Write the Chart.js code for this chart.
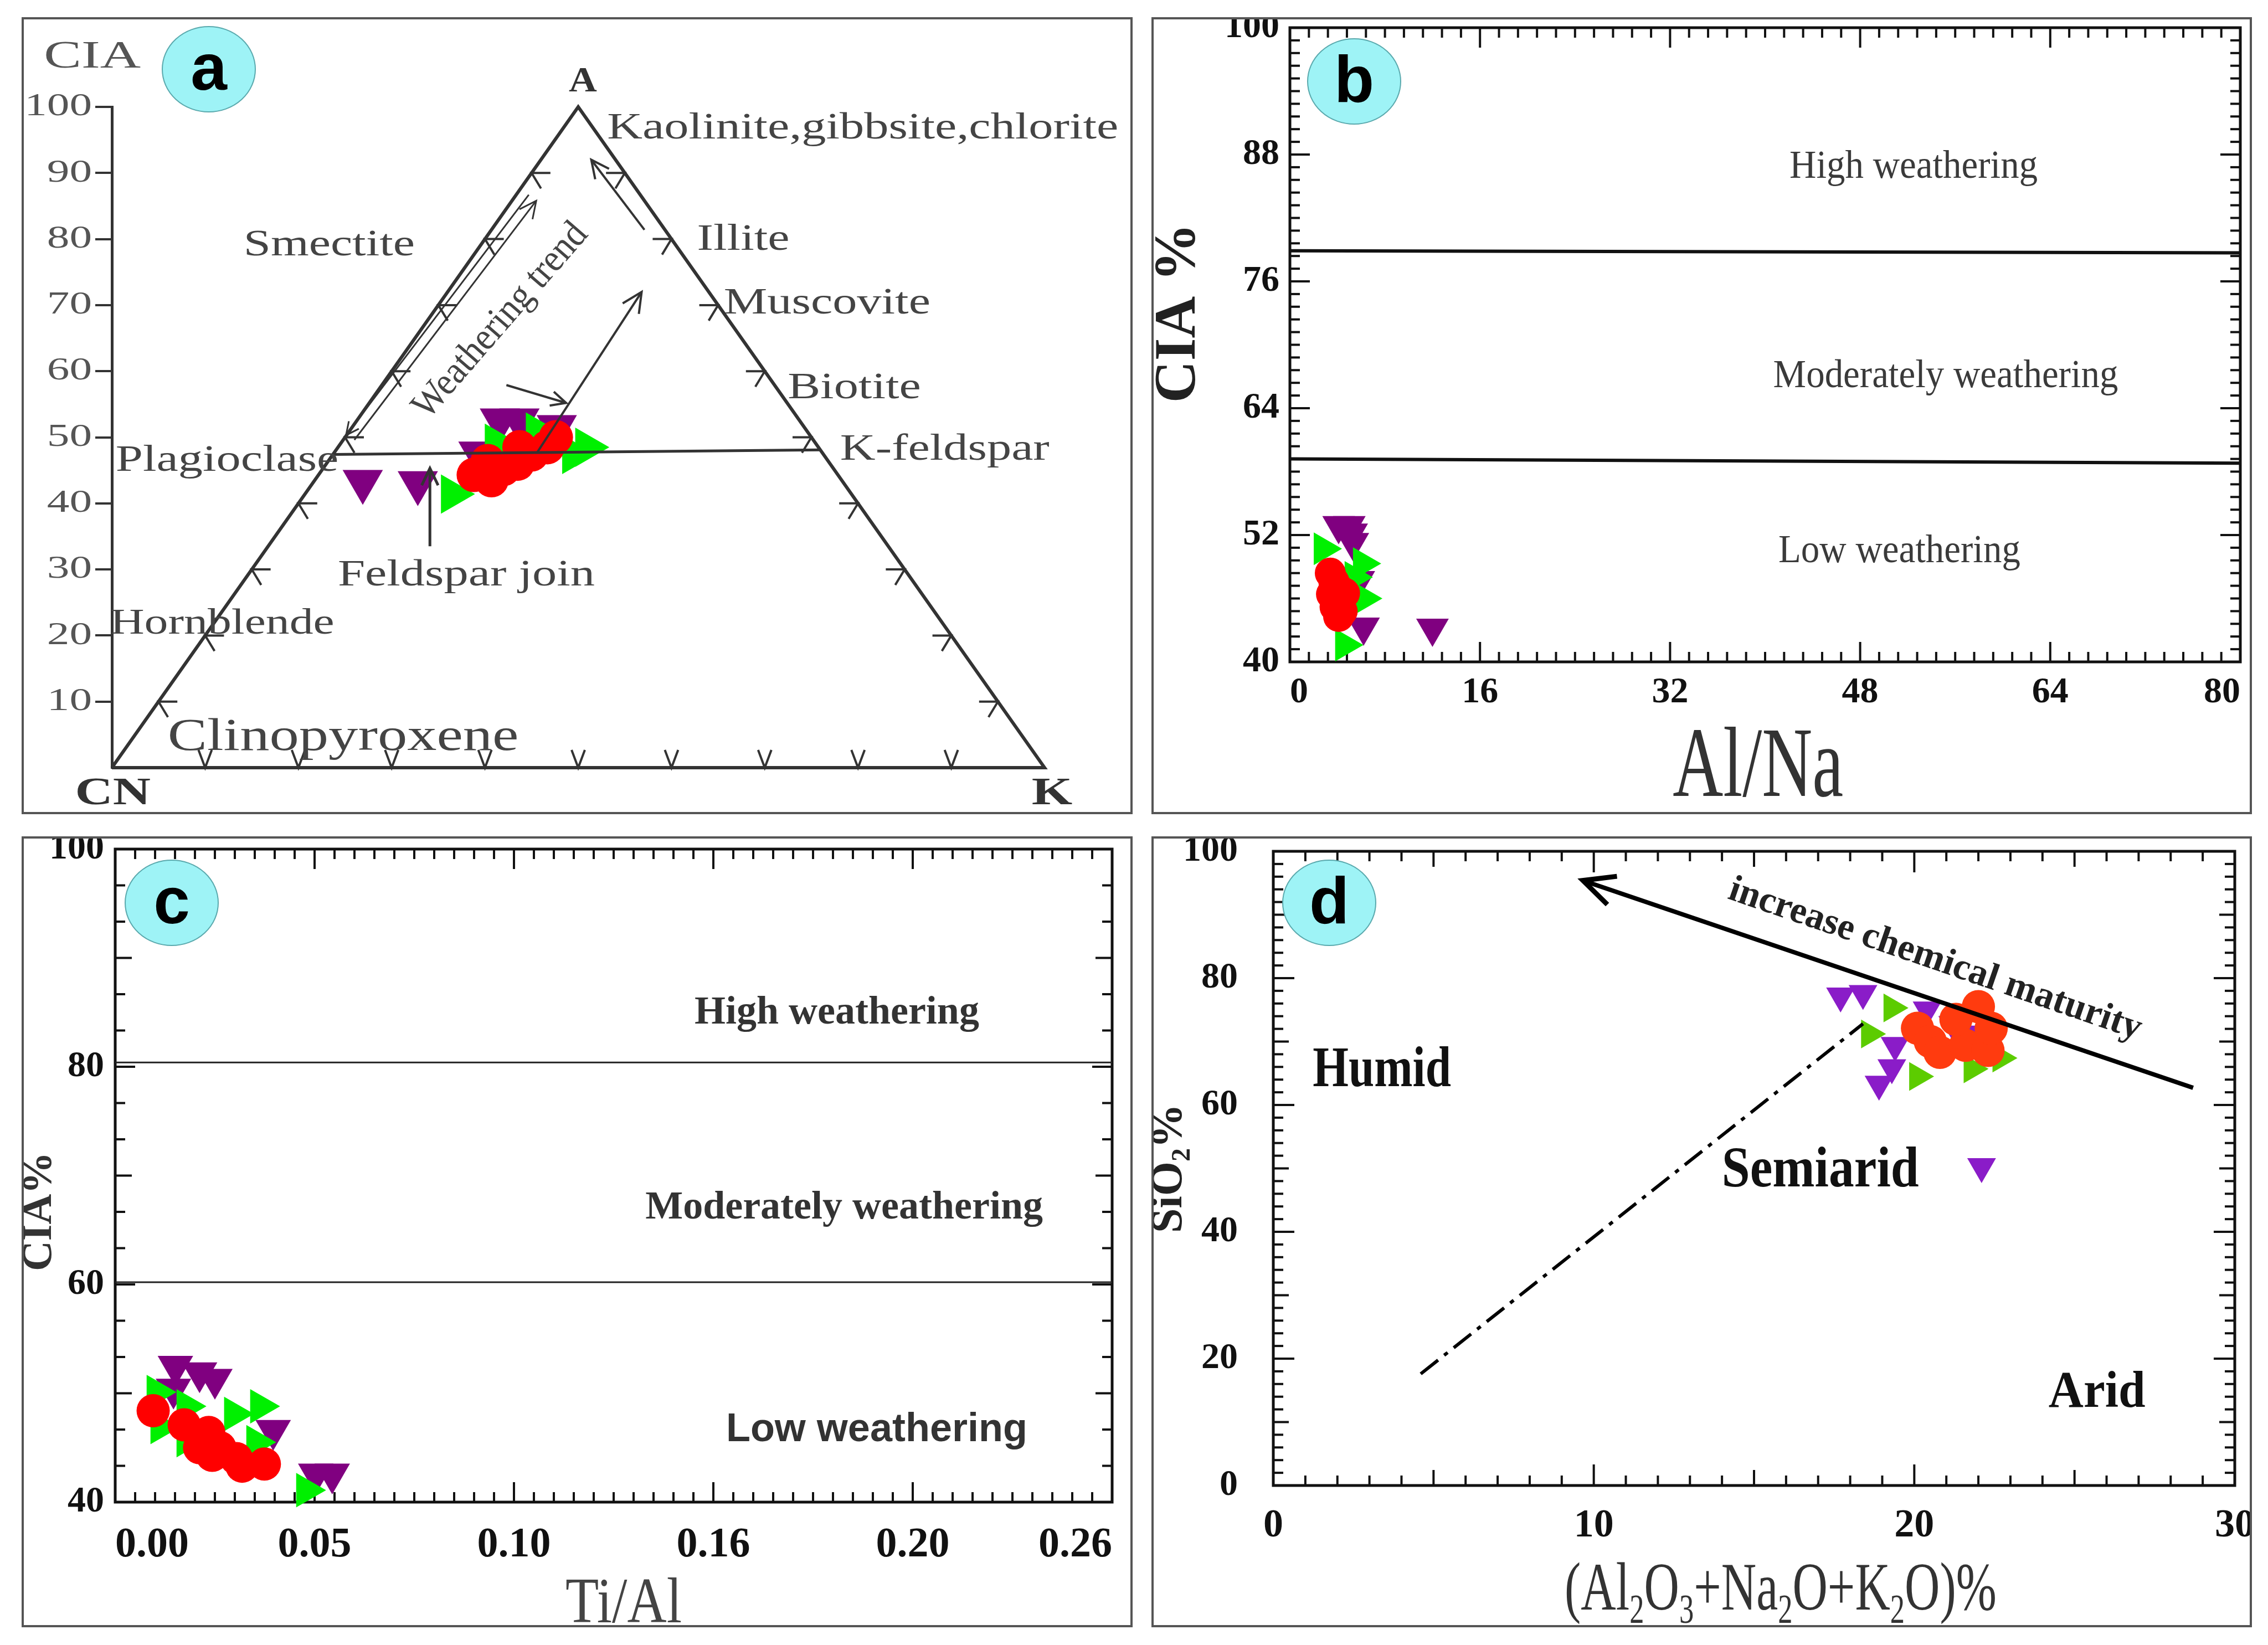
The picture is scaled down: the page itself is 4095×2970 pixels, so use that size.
<!DOCTYPE html>
<html>
<head>
<meta charset="utf-8">
<script src="https://cdn.jsdelivr.net/npm/chart.js@4.4.1/dist/chart.umd.min.js"></script>
<style>
    html, body { margin: 0; padding: 0; background: #fff; }
    body { width: 4095px; height: 2970px; position: relative; overflow: hidden; }
    canvas { position: absolute; }
</style>
</head>
<body>
<canvas id="chartA" width="2006" height="1439" style="left:39px;top:31px"></canvas>
<canvas id="chartB" width="1987" height="1439" style="left:2079px;top:31px"></canvas>
<canvas id="chartC" width="2006" height="1428" style="left:39px;top:1510px"></canvas>
<canvas id="chartD" width="1987" height="1428" style="left:2079px;top:1510px"></canvas>
<script>
// ---- panel a: A-CN-K ternary (x along CN-K base, y = CIA) ----
const aYTicks = [10, 20, 30, 40, 50, 60, 70, 80, 90, 100];
const aRed    = [[38.8, 44.3], [40.7, 43.5], [42.0, 45.2], [43.5, 46.0], [45.0, 47.4], [46.7, 48.5], [47.6, 50.0], [40.3, 46.4], [43.7, 48.5]];
const aGreen  = [[36.5, 41.4], [50.9, 48.5], [49.5, 47.4], [45.6, 50.8], [41.2, 49.1]];
const aPurple = [[26.9, 43.3], [32.8, 43.1], [41.6, 52.6], [43.7, 52.6], [47.7, 51.6], [39.3, 47.6]];
const aTriangle    = [[0, 0], [50, 100], [100, 0], [0, 0]];
const aJoin        = [[23.7, 47.4], [76.0, 48.1]];
const aTrend       = [[45.6, 47.7], [56.8, 72.0]];
const aToA         = [[57.1, 81.4], [51.4, 92.0]];
const aPointer     = [[42.3, 57.9], [48.7, 55.2]];
const aJoinPointer = [[34.1, 33.5], [34.1, 45.3]];
const aSideOuter   = [[25.1, 50.3], [44.7, 86.7]];
const aSideInner   = [[26.0, 49.6], [45.5, 85.8]];

// ---- panel b: CIA vs Al/Na ----
const bXTicks = [0, 16, 32, 48, 64, 80];
const bYTicks = [40, 52, 64, 76, 88, 100];
const bUpper  = [[0, 78.9], [80, 78.7]];
const bLower  = [[0, 59.2], [80, 58.8]];
const bRed    = [[3.4, 48.4], [3.7, 47.6], [4.0, 47.0], [3.5, 46.4], [4.2, 45.8], [3.8, 45.2], [4.4, 44.8], [4.1, 44.3], [4.6, 46.5]];
const bGreen  = [[2.8, 50.7], [6.1, 49.3], [6.2, 46.0], [4.6, 41.6], [5.4, 48.0]];
const bPurple = [[4.1, 52.9], [5.0, 52.9], [5.2, 52.2], [5.3, 51.3], [5.8, 47.7], [6.2, 43.3], [12.0, 43.2]];

// ---- panel c: CIA vs Ti/Al ----
const cXTicks  = [0, 0.052, 0.104, 0.156, 0.208, 0.26];
const cXLabels = ['0.00', '0.05', '0.10', '0.16', '0.20', '0.26'];
const cYTicks  = [40, 60, 80, 100];
const cUpper   = [[0, 80.4], [0.26, 80.4]];
const cLower   = [[0, 60.2], [0.26, 60.2]];
const cRed     = [[0.0099, 48.4], [0.0180, 47.1], [0.0244, 46.4], [0.0273, 45.0], [0.0253, 44.3], [0.0316, 44.0], [0.0331, 43.3], [0.0389, 43.5], [0.0220, 45.0]];
const cGreen   = [[0.0378, 48.8], [0.0310, 48.1], [0.0108, 50.1], [0.0186, 48.8], [0.0368, 45.5], [0.0186, 45.7], [0.0118, 46.9], [0.0498, 41.1]];
const cPurple  = [[0.0157, 52.5], [0.0220, 51.9], [0.0260, 51.3], [0.0152, 50.4], [0.0412, 46.6], [0.0523, 42.6], [0.0566, 42.6]];

// ---- panel d: SiO2 vs (Al2O3+Na2O+K2O) ----
const dXTicks    = [0, 10, 20, 30];
const dYTicks    = [0, 20, 40, 60, 80, 100];
const dMaturity  = [[28.7, 62.7], [9.66, 95.4]];
const dBoundary  = [[4.6, 17.6], [18.4, 72.8]];
const dRed    = [[22.0, 75.5], [20.1, 72.1], [20.5, 70.0], [20.8, 68.3], [21.6, 69.4], [22.3, 68.6], [22.4, 72.1], [21.3, 73.5]];
const dGreen  = [[19.3, 75.3], [18.6, 71.2], [20.1, 64.5], [21.8, 65.7], [22.7, 67.4]];
const dPurple = [[17.7, 77.2], [18.4, 77.6], [19.4, 69.4], [19.3, 65.9], [18.9, 63.3], [20.4, 75.0], [21.2, 72.7], [22.0, 71.2], [22.1, 50.3]];

const SERIF = '"Liberation Serif", "Times New Roman", serif';
const SANS  = '"Liberation Sans", Arial, sans-serif';

const pts = arr => arr.map(([x, y]) => ({ x, y }));

function marker(data, color, style, rot, r) {
    return { data: pts(data), pointStyle: style, rotation: rot, pointRadius: r,
             backgroundColor: color, borderWidth: 0, clip: false };
}
function guide(data, color, width, extra) {
    return Object.assign({ data: pts(data), showLine: true, pointRadius: 0, borderColor: color,
        borderWidth: width, fill: false, clip: false, borderJoinStyle: 'miter' }, extra || {});
}
function T(t, x, y, size, extra) {
    return Object.assign({ t, x, y, size }, extra || {});
}

function drawText(chart, t) {
    const { ctx, scales: { x, y } } = chart;
    const runs = Array.isArray(t.t) ? t.t : [[t.t, 0]];
    const fontFor = sub => `${t.bold ? 'bold ' : ''}${sub ? Math.round(t.size * 0.6) : t.size}px ${t.family || SERIF}`;
    ctx.save();
    ctx.translate(x.getPixelForValue(t.x), y.getPixelForValue(t.y));
    if (t.rot) ctx.rotate(t.rot * Math.PI / 180);
    ctx.scale(t.sx || 1, 1);
    ctx.fillStyle = t.color || '#333';
    ctx.textBaseline = 'middle';
    ctx.textAlign = 'left';
    let total = 0;
    const widths = runs.map(([s, sub]) => { ctx.font = fontFor(sub); const w = ctx.measureText(s).width; total += w; return w; });
    let cx = t.align === 'left' ? 0 : -total / 2;
    runs.forEach(([s, sub], i) => {
        ctx.font = fontFor(sub);
        ctx.fillText(s, cx, sub ? t.size * 0.3 : 0);
        cx += widths[i];
    });
    ctx.restore();
}

function drawFrame(chart, f) {
    const { ctx, chartArea: a, scales: { x, y } } = chart;
    const seg = (x1, y1, x2, y2) => { ctx.beginPath(); ctx.moveTo(x1, y1); ctx.lineTo(x2, y2); ctx.stroke(); };
    const lenFor = (k, minor, major, mid) => {
        const v = k * minor;
        const on = s => s && Math.abs(v / s - Math.round(v / s)) < 1e-6;
        return on(major) ? f.majorLen : on(mid) ? f.midLen : f.minorLen;
    };
    ctx.save();
    ctx.strokeStyle = '#111';
    ctx.lineWidth = 4;
    const nx = Math.round((x.max - x.min) / f.xMinor);
    for (let k = 0; k <= nx; k++) {
        const px = x.getPixelForValue(x.min + k * f.xMinor);
        const len = lenFor(k, f.xMinor, f.xMajor, f.xMid);
        seg(px, a.bottom, px, a.bottom - len);
        seg(px, a.top, px, a.top + len);
    }
    const ny = Math.round((y.max - y.min) / f.yMinor);
    for (let k = 0; k <= ny; k++) {
        const py = y.getPixelForValue(y.min + k * f.yMinor);
        const len = lenFor(k, f.yMinor, f.yMajor, f.yMid);
        seg(a.left, py, a.left + len, py);
        seg(a.right, py, a.right - len, py);
    }
    ctx.lineWidth = 5;
    ctx.strokeRect(a.left, a.top, a.width, a.height);
    ctx.restore();
}

// small chevrons every 10 % along the three sides of the ternary
function drawChevrons(chart) {
    const { ctx, scales: { x, y } } = chart;
    const path = (p1, p2, p3) => { ctx.beginPath(); ctx.moveTo(...p1); ctx.lineTo(...p2); ctx.lineTo(...p3); ctx.stroke(); };
    ctx.save();
    ctx.strokeStyle = '#333';
    ctx.lineWidth = 4;
    for (let i = 1; i < 10; i++) {
        const c = i * 10;
        let px = x.getPixelForValue(c), py = y.getPixelForValue(0);
        path([px - 12, py - 32], [px, py], [px + 12, py - 32]);
        px = x.getPixelForValue(c / 2); py = y.getPixelForValue(c);
        path([px + 34, py], [px, py], [px + 17, py + 28]);
        px = x.getPixelForValue(100 - c / 2);
        path([px - 34, py], [px, py], [px - 17, py + 28]);
    }
    ctx.restore();
}

function head(ctx, from, to, len, spread) {
    const ang = Math.atan2(to.y - from.y, to.x - from.x);
    ctx.beginPath();
    ctx.moveTo(to.x - len * Math.cos(ang - spread), to.y - len * Math.sin(ang - spread));
    ctx.lineTo(to.x, to.y);
    ctx.lineTo(to.x - len * Math.cos(ang + spread), to.y - len * Math.sin(ang + spread));
    ctx.stroke();
}

function drawArrowHeads(chart) {
    const ctx = chart.ctx;
    chart.data.datasets.forEach((ds, i) => {
        if (!ds.arrow) return;
        const p = chart.getDatasetMeta(i).data;
        ctx.save();
        ctx.strokeStyle = ds.borderColor;
        ctx.lineWidth = ds.headWidth || ds.borderWidth;
        ctx.lineJoin = 'miter';
        ctx.setLineDash([]);
        if (ds.arrow === 'end') head(ctx, p[p.length - 2], p[p.length - 1], ds.headLen || 34, 0.45);
        if (ds.arrow === 'start') head(ctx, p[1], p[0], ds.headLen || 34, 0.45);
        ctx.restore();
    });
}

function drawBadge(ctx, b) {
    ctx.save();
    ctx.beginPath();
    ctx.ellipse(b.cx, b.cy, 84, 77, 0, 0, Math.PI * 2);
    ctx.fillStyle = '#9ef3f6';
    ctx.fill();
    ctx.strokeStyle = '#5aa9ad';
    ctx.lineWidth = 2;
    ctx.stroke();
    ctx.fillStyle = '#000';
    ctx.font = `bold 118px ${SANS}`;
    ctx.textAlign = 'center';
    ctx.textBaseline = 'middle';
    ctx.fillText(b.label, b.cx, b.cy + 4);
    ctx.restore();
}

// tick labels of the ternary CIA axis, drawn wide like the original
function drawTernaryLabels(chart, ticks) {
    const { ctx, chartArea, scales: { y } } = chart;
    ctx.save();
    ctx.fillStyle = '#555';
    ctx.font = `58px ${SERIF}`;
    ctx.textAlign = 'right';
    ctx.textBaseline = 'middle';
    ticks.forEach(v => {
        ctx.save();
        ctx.translate(chartArea.left - 36, y.getPixelForValue(v));
        ctx.scale(1.4, 1);
        ctx.fillText(String(v), 0, 0);
        ctx.restore();
    });
    ctx.restore();
}

function decor(cfg) {
    return {
        id: 'decor',
        beforeDatasetsDraw(chart) {
            if (cfg.frame) drawFrame(chart, cfg.frame);
            if (cfg.ternary) drawChevrons(chart);
        },
        afterDatasetsDraw(chart) { drawArrowHeads(chart); },
        afterDraw(chart) {
            const ctx = chart.ctx;
            if (cfg.yLabels) drawTernaryLabels(chart, cfg.yLabels);
            (cfg.texts || []).forEach(t => drawText(chart, t));
            drawBadge(ctx, cfg.badge);
            ctx.save();
            ctx.strokeStyle = '#555';
            ctx.lineWidth = 4;
            ctx.strokeRect(2, 2, chart.width - 4, chart.height - 4);
            ctx.restore();
        }
    };
}

function tickFont(size) { return { family: SERIF, size, weight: 'bold' }; }

// fixed-size axis; label overflow padding is zeroed so the plot area stays put
function axis(min, max, ticks, size, font, pad, labels, align) {
    return {
        min, max,
        afterBuildTicks: s => { s.ticks = ticks.map(v => ({ value: v })); },
        afterFit: s => {
            if (s.isHorizontal()) s.height = size; else s.width = size;
            s.paddingTop = 0; s.paddingBottom = 0; s.paddingLeft = 0; s.paddingRight = 0;
        },
        grid: { display: false, drawTicks: false },
        border: { display: false },
        ticks: { font, color: '#111', padding: pad, maxRotation: 0, autoSkip: false, align: align || 'center',
                 callback: labels ? (v, i) => labels[i] : undefined }
    };
}

function baseOptions(padding, scales) {
    return {
        responsive: false,
        animation: false,
        events: [],
        layout: { padding, autoPadding: false },
        plugins: { legend: { display: false }, tooltip: { enabled: false } },
        scales
    };
}

// ---------- panel a ----------
const aTexts = [
    T('CIA', -2.1, 107.5, 70, { sx: 1.45, color: '#555' }),
    T('A', 50.5, 103.7, 64, { bold: true, sx: 1.1 }),
    T('CN', 0.1, -4.0, 70, { bold: true, sx: 1.35 }),
    T('K', 100.8, -4.0, 70, { bold: true, sx: 1.35 }),
    T('Kaolinite,gibbsite,chlorite', 53.1, 96.7, 68, { sx: 1.3, color: '#444', align: 'left' }),
    T('Smectite', 23.3, 79.0, 68, { sx: 1.3, color: '#444' }),
    T('Illite', 67.7, 79.9, 68, { sx: 1.3, color: '#444' }),
    T('Muscovite', 65.6, 70.2, 68, { sx: 1.3, color: '#444', align: 'left' }),
    T('Biotite', 79.6, 57.4, 68, { sx: 1.3, color: '#444' }),
    T('K-feldspar', 89.3, 48.1, 68, { sx: 1.3, color: '#444' }),
    T('Plagioclase', 0.4, 46.4, 68, { sx: 1.3, color: '#444', align: 'left' }),
    T('Feldspar join', 38.0, 29.1, 68, { sx: 1.3, color: '#444' }),
    T('Hornblende', -0.2, 21.7, 66, { sx: 1.3, color: '#444', align: 'left' }),
    T('Clinopyroxene', 24.8, 4.5, 82, { sx: 1.3, color: '#444' }),
    T('Weathering trend', 41.7, 67.6, 70, { rot: -49, sx: 0.92, color: '#444' })
];

new Chart(document.getElementById('chartA'), {
    type: 'scatter',
    data: {
        datasets: [
            guide(aTriangle, '#333', 6),
            guide(aJoin, '#333', 5),
            guide(aTrend, '#333', 4, { arrow: 'end', headLen: 40 }),
            guide(aToA, '#333', 4, { arrow: 'end', headLen: 36 }),
            guide(aPointer, '#333', 4, { arrow: 'end', headLen: 30 }),
            guide(aJoinPointer, '#333', 5, { arrow: 'end', headLen: 34 }),
            guide(aSideOuter, '#333', 3, { arrow: 'start', headLen: 26 }),
            guide(aSideInner, '#333', 3, { arrow: 'end', headLen: 34 }),
            marker(aRed, '#ff0000', 'circle', 0, 31),
            marker(aGreen, '#00f000', 'triangle', 90, 41),
            marker(aPurple, '#800080', 'triangle', 180, 42)
        ]
    },
    options: baseOptions({ left: 0, right: 159, top: 162, bottom: 84 }, {
        x: { min: 0, max: 100, display: false },
        y: {
            min: 0, max: 100,
            afterBuildTicks: s => { s.ticks = aYTicks.map(v => ({ value: v })); },
            afterFit: s => { s.width = 163; s.paddingTop = 0; s.paddingBottom = 0; },
            border: { display: true, color: '#333', width: 5 },
            grid: { display: true, drawOnChartArea: false, drawTicks: true, tickLength: 30, color: '#333', lineWidth: 4 },
            ticks: { display: false }
        }
    }),
    plugins: [decor({
        ternary: true,
        yLabels: aYTicks,
        texts: aTexts,
        badge: { label: 'a', cx: 338, cy: 94 }
    })]
});

// ---------- panel b ----------
new Chart(document.getElementById('chartB'), {
    type: 'scatter',
    data: {
        datasets: [
            guide(bUpper, '#111', 6),
            guide(bLower, '#111', 6),
            marker(bRed, '#ff0000', 'circle', 0, 28),
            marker(bGreen, '#00f000', 'triangle', 90, 34),
            marker(bPurple, '#800080', 'triangle', 180, 34)
        ]
    },
    options: baseOptions({ left: 0, right: 21, top: 19, bottom: 0 }, {
        x: axis(0, 80, bXTicks, 275, tickFont(66), 16, null, 'inner'),
        y: axis(40, 100, bYTicks, 250, tickFont(66), 19)
    }),
    plugins: [decor({
        frame: { xMinor: 1.6, xMajor: 16, yMinor: 1.2, yMajor: 12, minorLen: 18, majorLen: 36, midLen: 18 },
        texts: [
            T('High weathering', 52.5, 86.8, 72, { sx: 0.93, color: '#3a3a3a' }),
            T('Moderately weathering', 55.2, 67.0, 72, { sx: 0.93, color: '#3a3a3a' }),
            T('Low weathering', 51.3, 50.4, 72, { sx: 0.93, color: '#3a3a3a' }),
            T('CIA %', -9.3, 73.0, 105, { bold: true, rot: -90, color: '#222' }),
            T('Al/Na', 39.4, 29.8, 180, { sx: 0.7, color: '#333' })
        ],
        badge: { label: 'b', cx: 366, cy: 116 }
    })]
});

// ---------- panel c ----------
new Chart(document.getElementById('chartC'), {
    type: 'scatter',
    data: {
        datasets: [
            guide(cUpper, '#222', 3),
            guide(cLower, '#222', 3),
            marker(cRed, '#ff0000', 'circle', 0, 30),
            marker(cGreen, '#00f000', 'triangle', 90, 36),
            marker(cPurple, '#800080', 'triangle', 180, 37)
        ]
    },
    options: baseOptions({ left: 0, right: 37, top: 23, bottom: 0 }, {
        x: axis(0, 0.26, cXTicks, 226, tickFont(76), 33, cXLabels, 'inner'),
        y: axis(40, 100, cYTicks, 169, tickFont(66), 20)
    }),
    plugins: [decor({
        frame: { xMinor: 0.0052, xMajor: 0.052, yMinor: 10 / 3, yMajor: 20, yMid: 10, minorLen: 18, majorLen: 36, midLen: 30 },
        texts: [
            T('High weathering', 0.1882, 84.9, 72, { bold: true, color: '#333' }),
            T('Moderately weathering', 0.1901, 67.0, 72, { bold: true, color: '#333' }),
            T('Low weathering', 0.1986, 46.6, 72, { bold: true, family: SANS, color: '#333' }),
            T('CIA%', -0.0196, 66.7, 76, { bold: true, rot: -90, color: '#333' }),
            T('Ti/Al', 0.1326, 30.5, 116, { sx: 0.85, color: '#444' })
        ],
        badge: { label: 'c', cx: 271, cy: 120 }
    })]
});

// ---------- panel d ----------
new Chart(document.getElementById('chartD'), {
    type: 'scatter',
    data: {
        datasets: [
            guide(dMaturity, '#000', 8, { arrow: 'end', headLen: 62, headWidth: 9 }),
            guide(dBoundary, '#000', 6, { borderDash: [40, 14, 8, 14] }),
            marker(dRed, '#ff3b0f', 'circle', 0, 30),
            marker(dGreen, '#5ccc00', 'triangle', 90, 30),
            marker(dPurple, '#8a1cc8', 'triangle', 180, 30)
        ]
    },
    options: baseOptions({ left: 0, right: 31, top: 27, bottom: 0 }, {
        x: axis(0, 30, dXTicks, 256, tickFont(72), 30),
        y: axis(0, 100, dYTicks, 220, tickFont(66), 64)
    }),
    plugins: [decor({
        frame: { xMinor: 1, xMajor: 10, xMid: 5, yMinor: 2, yMajor: 20, yMid: 10, minorLen: 18, majorLen: 38, midLen: 28 },
        texts: [
            T('increase chemical maturity', 20.65, 82.9, 68, { bold: true, rot: 19, color: '#222' }),
            T('Humid', 3.39, 65.3, 104, { bold: true, sx: 0.8, color: '#111' }),
            T('Semiarid', 17.07, 49.5, 104, { bold: true, sx: 0.88, color: '#111' }),
            T('Arid', 25.7, 14.5, 94, { bold: true, sx: 0.93, color: '#111' }),
            T([['SiO', 0], ['2', 1], ['%', 0]], -3.23, 50.0, 80, { bold: true, rot: -90, color: '#222' }),
            T([['(Al', 0], ['2', 1], ['O', 0], ['3', 1], ['+Na', 0], ['2', 1], ['O+K', 0], ['2', 1], ['O)%', 0]],
              15.83, -16.8, 122, { sx: 0.72, color: '#333' })
        ],
        badge: { label: 'd', cx: 321, cy: 120 }
    })]
});
</script>
</body>
</html>
